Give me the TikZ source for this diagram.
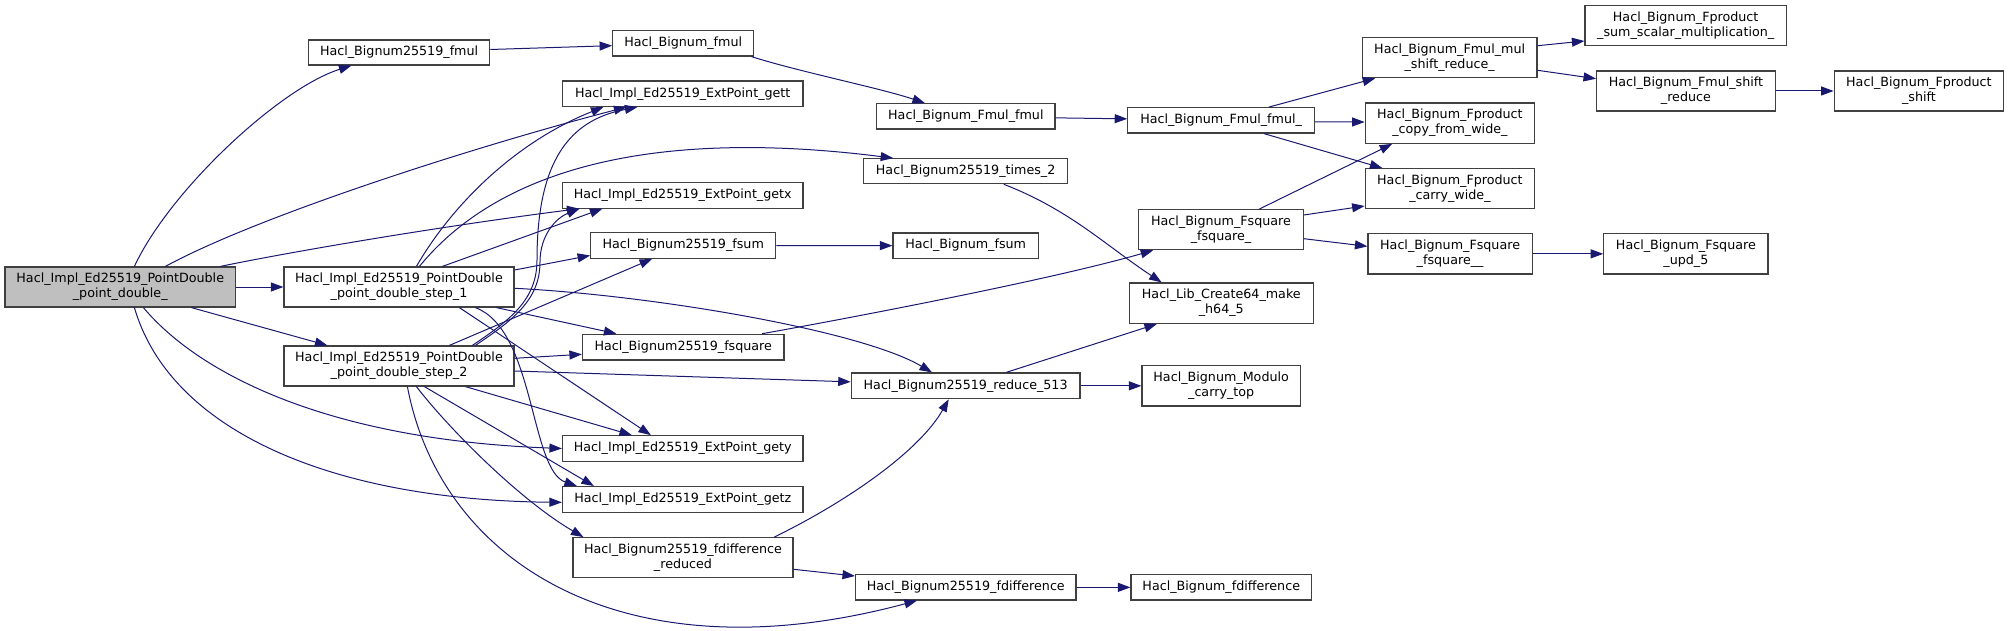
\documentclass[tikz,border=0pt]{standalone}
\usepackage{fontspec}
\setmainfont{DejaVu Sans}
\usetikzlibrary{arrows.meta}
\definecolor{edgecol}{HTML}{191970}
\definecolor{boxline}{HTML}{404040}
\definecolor{rootfill}{HTML}{BFBFBF}
\begin{document}
\begin{tikzpicture}[x=1pt,y=1pt,
  fn/.style={draw=boxline, line width=1.2pt, fill=white, inner sep=0pt, align=center, font=\fontsize{12.7}{15}\selectfont},
  callarrow/.style={draw=edgecol, line width=1pt, -{Triangle[length=12.5pt,width=9pt]}}]
\useasboundingbox (0,0) rectangle (2009,-631);

% nodes
\node[fn, fill=rootfill, minimum width=230.5pt, minimum height=40pt] (root) at (120.25,-287) {Hacl\_Impl\_Ed25519\_PointDouble\\\_point\_double\_};
\node[fn, minimum width=230pt, minimum height=40pt] (step1) at (399,-287) {Hacl\_Impl\_Ed25519\_PointDouble\\\_point\_double\_step\_1};
\node[fn, minimum width=230pt, minimum height=40pt] (step2) at (399,-366) {Hacl\_Impl\_Ed25519\_PointDouble\\\_point\_double\_step\_2};
\node[fn, minimum width=181.2pt, minimum height=25pt] (fmul25519) at (399.1,-52.5) {Hacl\_Bignum25519\_fmul};
\node[fn, minimum width=240.5pt, minimum height=25.5pt] (gett) at (682.75,-93.75) {Hacl\_Impl\_Ed25519\_ExtPoint\_gett};
\node[fn, minimum width=240.5pt, minimum height=25.5pt] (getx) at (682.75,-195.35) {Hacl\_Impl\_Ed25519\_ExtPoint\_getx};
\node[fn, minimum width=185.1pt, minimum height=25.6pt] (fsum25519) at (683.25,-245.5) {Hacl\_Bignum25519\_fsum};
\node[fn, minimum width=201.5pt, minimum height=25.7pt] (fsquare25519) at (683.25,-347.15) {Hacl\_Bignum25519\_fsquare};
\node[fn, minimum width=240.5pt, minimum height=25.5pt] (gety) at (682.75,-448.5) {Hacl\_Impl\_Ed25519\_ExtPoint\_gety};
\node[fn, minimum width=240.5pt, minimum height=25.5pt] (getz) at (682.75,-499.35) {Hacl\_Impl\_Ed25519\_ExtPoint\_getz};
\node[fn, minimum width=220pt, minimum height=40pt] (fdiffred) at (683,-557.7) {Hacl\_Bignum25519\_fdifference\\\_reduced};
\node[fn, minimum width=141.1pt, minimum height=25.3pt] (bfmul) at (683.25,-43.35) {Hacl\_Bignum\_fmul};
\node[fn, minimum width=178.3pt, minimum height=25.3pt] (Fmulfmul) at (965.85,-116.35) {Hacl\_Bignum\_Fmul\_fmul};
\node[fn, minimum width=203.7pt, minimum height=25pt] (times2) at (965.65,-171.2) {Hacl\_Bignum25519\_times\_2};
\node[fn, minimum width=145.3pt, minimum height=25.3pt] (bfsum) at (965.65,-245.65) {Hacl\_Bignum\_fsum};
\node[fn, minimum width=228.7pt, minimum height=25.7pt] (reduce513) at (965.65,-385.85) {Hacl\_Bignum25519\_reduce\_513};
\node[fn, minimum width=220.4pt, minimum height=25.3pt] (fdiff25519) at (965.8,-587.35) {Hacl\_Bignum25519\_fdifference};
\node[fn, minimum width=186.6pt, minimum height=25.3pt] (Fmulfmulu) at (1221.1,-120.35) {Hacl\_Bignum\_Fmul\_fmul\_};
\node[fn, minimum width=164.4pt, minimum height=40pt] (Fsqfsq) at (1221,-229.7) {Hacl\_Bignum\_Fsquare\\\_fsquare\_};
\node[fn, minimum width=184.2pt, minimum height=40.3pt] (lib64) at (1221.3,-303.15) {Hacl\_Lib\_Create64\_make\\\_h64\_5};
\node[fn, minimum width=158.3pt, minimum height=40.3pt] (modcarry) at (1221.15,-385.85) {Hacl\_Bignum\_Modulo\\\_carry\_top};
\node[fn, minimum width=180.5pt, minimum height=25.3pt] (bfdiff) at (1221.25,-587.35) {Hacl\_Bignum\_fdifference};
\node[fn, minimum width=174.7pt, minimum height=40pt] (mulshift) at (1449.65,-57.7) {Hacl\_Bignum\_Fmul\_mul\\\_shift\_reduce\_};
\node[fn, minimum width=169.4pt, minimum height=40.3pt] (copywide) at (1449.9,-123.15) {Hacl\_Bignum\_Fproduct\\\_copy\_from\_wide\_};
\node[fn, minimum width=169.4pt, minimum height=40pt] (carrywide) at (1449.9,-188.7) {Hacl\_Bignum\_Fproduct\\\_carry\_wide\_};
\node[fn, minimum width=164.2pt, minimum height=40.3pt] (fsqu) at (1450.1,-253.85) {Hacl\_Bignum\_Fsquare\\\_fsquare\_\_};
\node[fn, minimum width=201.3pt, minimum height=40pt] (sumscalar) at (1685.65,-25.7) {Hacl\_Bignum\_Fproduct\\\_sum\_scalar\_multiplication\_};
\node[fn, minimum width=178.6pt, minimum height=40pt] (shiftred) at (1685.9,-91) {Hacl\_Bignum\_Fmul\_shift\\\_reduce};
\node[fn, minimum width=169.4pt, minimum height=40pt] (fpshift) at (1918.9,-91) {Hacl\_Bignum\_Fproduct\\\_shift};
\node[fn, minimum width=164.2pt, minimum height=40.3pt] (upd5) at (1685.9,-253.85) {Hacl\_Bignum\_Fsquare\\\_upd\_5};

% edges from root
\draw[callarrow] (root.east) -- (step1.west);
\draw[callarrow] ([xshift=130pt]root.north west) .. controls (170,-190) and (280,-88) .. ([xshift=43.5pt]fmul25519.south west);
\draw[callarrow] ([xshift=161pt]root.north west) .. controls (260,-215) and (480,-145) .. ([xshift=64.5pt]gett.south west);
\draw[callarrow] ([xshift=216pt]root.north west) .. controls (300,-250) and (450,-225) .. ([xshift=17.5pt]getx.south west);
\draw[callarrow] ([xshift=187pt]root.south west) -- ([xshift=44pt]step2.north west);
\draw[callarrow] ([xshift=139pt]root.south west) .. controls (200,-375) and (330,-440) .. (gety.west);
\draw[callarrow] ([xshift=130pt]root.south west) .. controls (170,-430) and (330,-500) .. ([yshift=-3pt]getz.west);

% edges from step 2
\draw[callarrow] ([xshift=124pt]step2.south west) .. controls (440,-560) and (620,-680) .. ([xshift=62pt]fdiff25519.south west);
\draw[callarrow] ([xshift=133pt]step2.south west) .. controls (450,-430) and (520,-500) .. ([xshift=11pt]fdiffred.north west);
\draw[callarrow] ([xshift=141pt]step2.south west) -- ([xshift=32pt]getz.north west);
\draw[callarrow] ([xshift=182pt]step2.south west) -- ([xshift=70pt]gety.north west);
\draw[callarrow] ([yshift=7.7pt]step2.east) -- ([yshift=-7.15pt]fsquare25519.west);
\draw[callarrow] ([yshift=-5pt]step2.east) -- ([yshift=4pt]reduce513.west);
\draw[callarrow] ([xshift=166pt]step2.north west) -- ([xshift=62pt]fsum25519.south west);
\draw[callarrow] ([xshift=189pt]step2.north west) .. controls (510,-320) and (537,-300) .. (537,-260) .. controls (537,-160) and (570,-120) .. ([xshift=75.5pt]gett.south west);
\draw[callarrow] ([xshift=192pt]step2.north west) .. controls (513,-320) and (540,-300) .. (540,-262) .. controls (540,-235) and (556,-218) .. ([xshift=17.5pt]getx.south west);

% edges from step 1
\draw[callarrow] ([xshift=133pt]step1.north west) .. controls (455,-200) and (520,-140) .. ([xshift=41.5pt]gett.south west);
\draw[callarrow] ([xshift=136pt]step1.north west) .. controls (490,-180) and (630,-125) .. ([xshift=30pt]times2.north west);
\draw[callarrow] ([xshift=159pt]step1.north west) -- ([xshift=40.5pt]getx.south west);
\draw[callarrow] ([yshift=17pt]step1.east) -- ([yshift=-10pt]fsum25519.west);
\draw[callarrow] ([yshift=-1.3pt]step1.east) .. controls (650,-295) and (860,-330) .. ([xshift=81.3pt]reduce513.north west);
\draw[callarrow] ([xshift=213pt]step1.south west) -- ([xshift=34.5pt]fsquare25519.north west);
\draw[callarrow] ([xshift=176pt]step1.south west) -- ([xshift=89pt]gety.north west);
\draw[callarrow] ([xshift=192pt]step1.south west) .. controls (535,-330) and (530,-470) .. ([xshift=15pt]getz.north west);

% other edges
\draw[callarrow] ([yshift=3pt]fmul25519.east) -- ([yshift=-2.3pt]bfmul.west);
\draw[callarrow] ([xshift=-3pt]bfmul.south east) .. controls (800,-72) and (880,-88) .. ([xshift=48.8pt]Fmulfmul.north west);
\draw[callarrow] ([yshift=-1.5pt]Fmulfmul.east) -- ([yshift=1.5pt]Fmulfmulu.west);
\draw[callarrow] ([xshift=141.6pt]Fmulfmulu.north west) -- ([xshift=13.5pt]mulshift.south west);
\draw[callarrow] ([yshift=-1.6pt]Fmulfmulu.east) -- ([yshift=1.15pt]copywide.west);
\draw[callarrow] ([xshift=136.7pt]Fmulfmulu.south west) -- ([xshift=17.8pt]carrywide.north west);
\draw[callarrow] ([xshift=121pt]Fsqfsq.north west) -- ([xshift=27.6pt]copywide.south west);
\draw[callarrow] ([yshift=14.7pt]Fsqfsq.east) -- ([yshift=-17.3pt]carrywide.west);
\draw[callarrow] ([yshift=-9pt]Fsqfsq.east) -- ([yshift=7.5pt]fsqu.west);
\draw[callarrow] (fsqu.east) -- (upd5.west);
\draw[callarrow] ([yshift=12pt]mulshift.east) -- ([yshift=-15.3pt]sumscalar.west);
\draw[callarrow] ([yshift=-12.6pt]mulshift.east) -- ([yshift=12.3pt]shiftred.west);
\draw[callarrow] (shiftred.east) -- (fpshift.west);
\draw[callarrow] (fsum25519.east) -- (bfsum.west);
\draw[callarrow] ([xshift=180.3pt]fsquare25519.north west) .. controls (850,-318) and (1050,-280) .. ([xshift=15pt]Fsqfsq.south west);
\draw[callarrow] ([xshift=140.6pt]times2.south west) .. controls (1070,-210) and (1105,-245) .. ([xshift=33pt]lib64.north west);
\draw[callarrow] ([xshift=155.5pt]reduce513.north west) -- ([xshift=28.3pt]lib64.south west);
\draw[callarrow] (reduce513.east) -- (modcarry.west);
\draw[callarrow] ([xshift=201.8pt]fdiffred.north west) .. controls (850,-500) and (920,-450) .. ([xshift=98pt]reduce513.south west);
\draw[callarrow] ([yshift=-11.6pt]fdiffred.east) -- ([yshift=11.35pt]fdiff25519.west);
\draw[callarrow] (fdiff25519.east) -- (bfdiff.west);
\end{tikzpicture}
\end{document}
